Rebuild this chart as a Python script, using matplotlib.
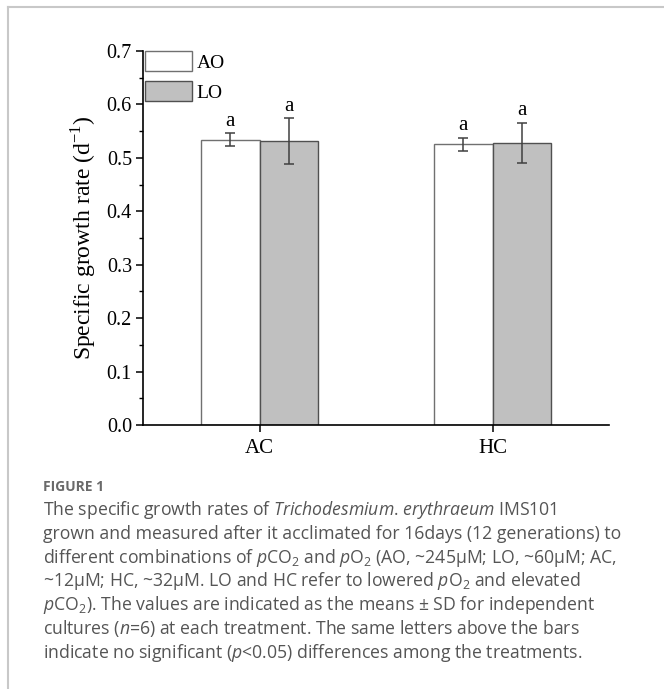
import matplotlib
matplotlib.use("Agg")
import matplotlib.pyplot as plt
from matplotlib.lines import Line2D
import numpy as np

categories = ["AC", "HC"]
series_names = ["AO", "LO"]
ao_values = [0.534, 0.525]
ao_sd = [0.012, 0.013]
lo_values = [0.531, 0.528]
lo_sd = [0.043, 0.037]
letters_ao = ["a", "a"]
letters_lo = ["a", "a"]
yticks = [0.0, 0.1, 0.2, 0.3, 0.4, 0.5, 0.6, 0.7]

caption_title = "FIGURE 1"
caption_lines = [
    r"The specific growth rates of $\mathit{Trichodesmium}$. $\mathit{erythraeum}$ IMS101",
    "grown and measured after it acclimated for 16days (12 generations) to",
    r"different combinations of $p$CO$_2$ and $p$O$_2$ (AO, ~245µM; LO, ~60µM; AC,",
    r"~12µM; HC, ~32µM. LO and HC refer to lowered $p$O$_2$ and elevated",
    r"$p$CO$_2$). The values are indicated as the means ± SD for independent",
    r"cultures ($n$=6) at each treatment. The same letters above the bars",
    r"indicate no significant ($p$<0.05) differences among the treatments.",
]

plt.rcParams["mathtext.fontset"] = "custom"
plt.rcParams["mathtext.rm"] = "Open Sans"
plt.rcParams["mathtext.it"] = "Open Sans:italic"

W, H = 664, 689
fig = plt.figure(figsize=(W / 100, H / 100), dpi=100)

def fx(px):
    return px / W

def fy(py):
    return 1 - py / H

ax = fig.add_axes([fx(143), fy(425), fx(609) - fx(143), fy(51) - fy(425)])

serif = "Liberation Serif"
x = np.arange(len(categories))
bw = 0.25
err_kw = dict(ecolor="#404040", elinewidth=1.1, capsize=3.5, capthick=1.1)
b1 = ax.bar(x - bw / 2, ao_values, bw, yerr=ao_sd, color="white",
            edgecolor="#707070", linewidth=1.0, label=series_names[0],
            error_kw=err_kw, zorder=2)
b2 = ax.bar(x + bw / 2, lo_values, bw, yerr=lo_sd, color="#c0c0c0",
            edgecolor="#505050", linewidth=1.0, label=series_names[1],
            error_kw=err_kw, zorder=2)

for i in range(len(categories)):
    ax.annotate(letters_ao[i], (x[i] - bw / 2, ao_values[i] + ao_sd[i]),
                xytext=(0, 2), textcoords="offset points", ha="center",
                va="bottom", family=serif, fontsize=15)
    ax.annotate(letters_lo[i], (x[i] + bw / 2, lo_values[i] + lo_sd[i]),
                xytext=(0, 2), textcoords="offset points", ha="center",
                va="bottom", family=serif, fontsize=15)

ax.set_xlim(-0.5, 1.5)
ax.set_ylim(0, 0.7)
ax.set_yticks(yticks)
ax.set_yticklabels([f"{v:.1f}" for v in yticks], family=serif, fontsize=14.5)
ax.set_yticks(np.arange(0.05, 0.7, 0.1), minor=True)
ax.set_xticks(x)
ax.set_xticklabels(categories, family=serif, fontsize=15)
ax.tick_params(axis="both", which="major", direction="out", length=5, width=1.1, color="black")
ax.tick_params(axis="y", which="minor", direction="out", length=3, width=1.0)
ax.tick_params(axis="x", which="major", pad=5)
ax.tick_params(axis="y", which="major", pad=3)
ax.spines["top"].set_visible(False)
ax.spines["right"].set_visible(False)
ax.spines["left"].set_linewidth(1.2)
ax.spines["bottom"].set_linewidth(1.2)
ax.set_ylabel(r"Specific growth rate (d$^{\mathregular{-1}}$)", family=serif, fontsize=17, labelpad=6)

leg = ax.legend(loc="upper left", bbox_to_anchor=(0.005, 1.0), frameon=False,
                prop={"family": serif, "size": 14}, handlelength=2.4,
                handleheight=1.2, handletextpad=0.25, labelspacing=0.5,
                borderpad=0.0, borderaxespad=0.0)

# caption
fig.text(fx(43), fy(490.7), caption_title, fontsize=10, fontweight="bold",
         color="#6a6a6a", family="Open Sans", va="baseline", ha="left")
y0 = 515
for i, line in enumerate(caption_lines):
    fig.text(fx(43), fy(y0 + i * 23.8), line, fontsize=12.7, color="#555555",
             family="Open Sans", va="baseline", ha="left")

# frame
fig.add_artist(Line2D([fx(8), 1.0], [fy(7), fy(7)], color="#c8c8c8", lw=1.5))
fig.add_artist(Line2D([fx(8), fx(8)], [fy(7), 0.0], color="#c8c8c8", lw=1.5))

fig.savefig("out.png", dpi=100)
